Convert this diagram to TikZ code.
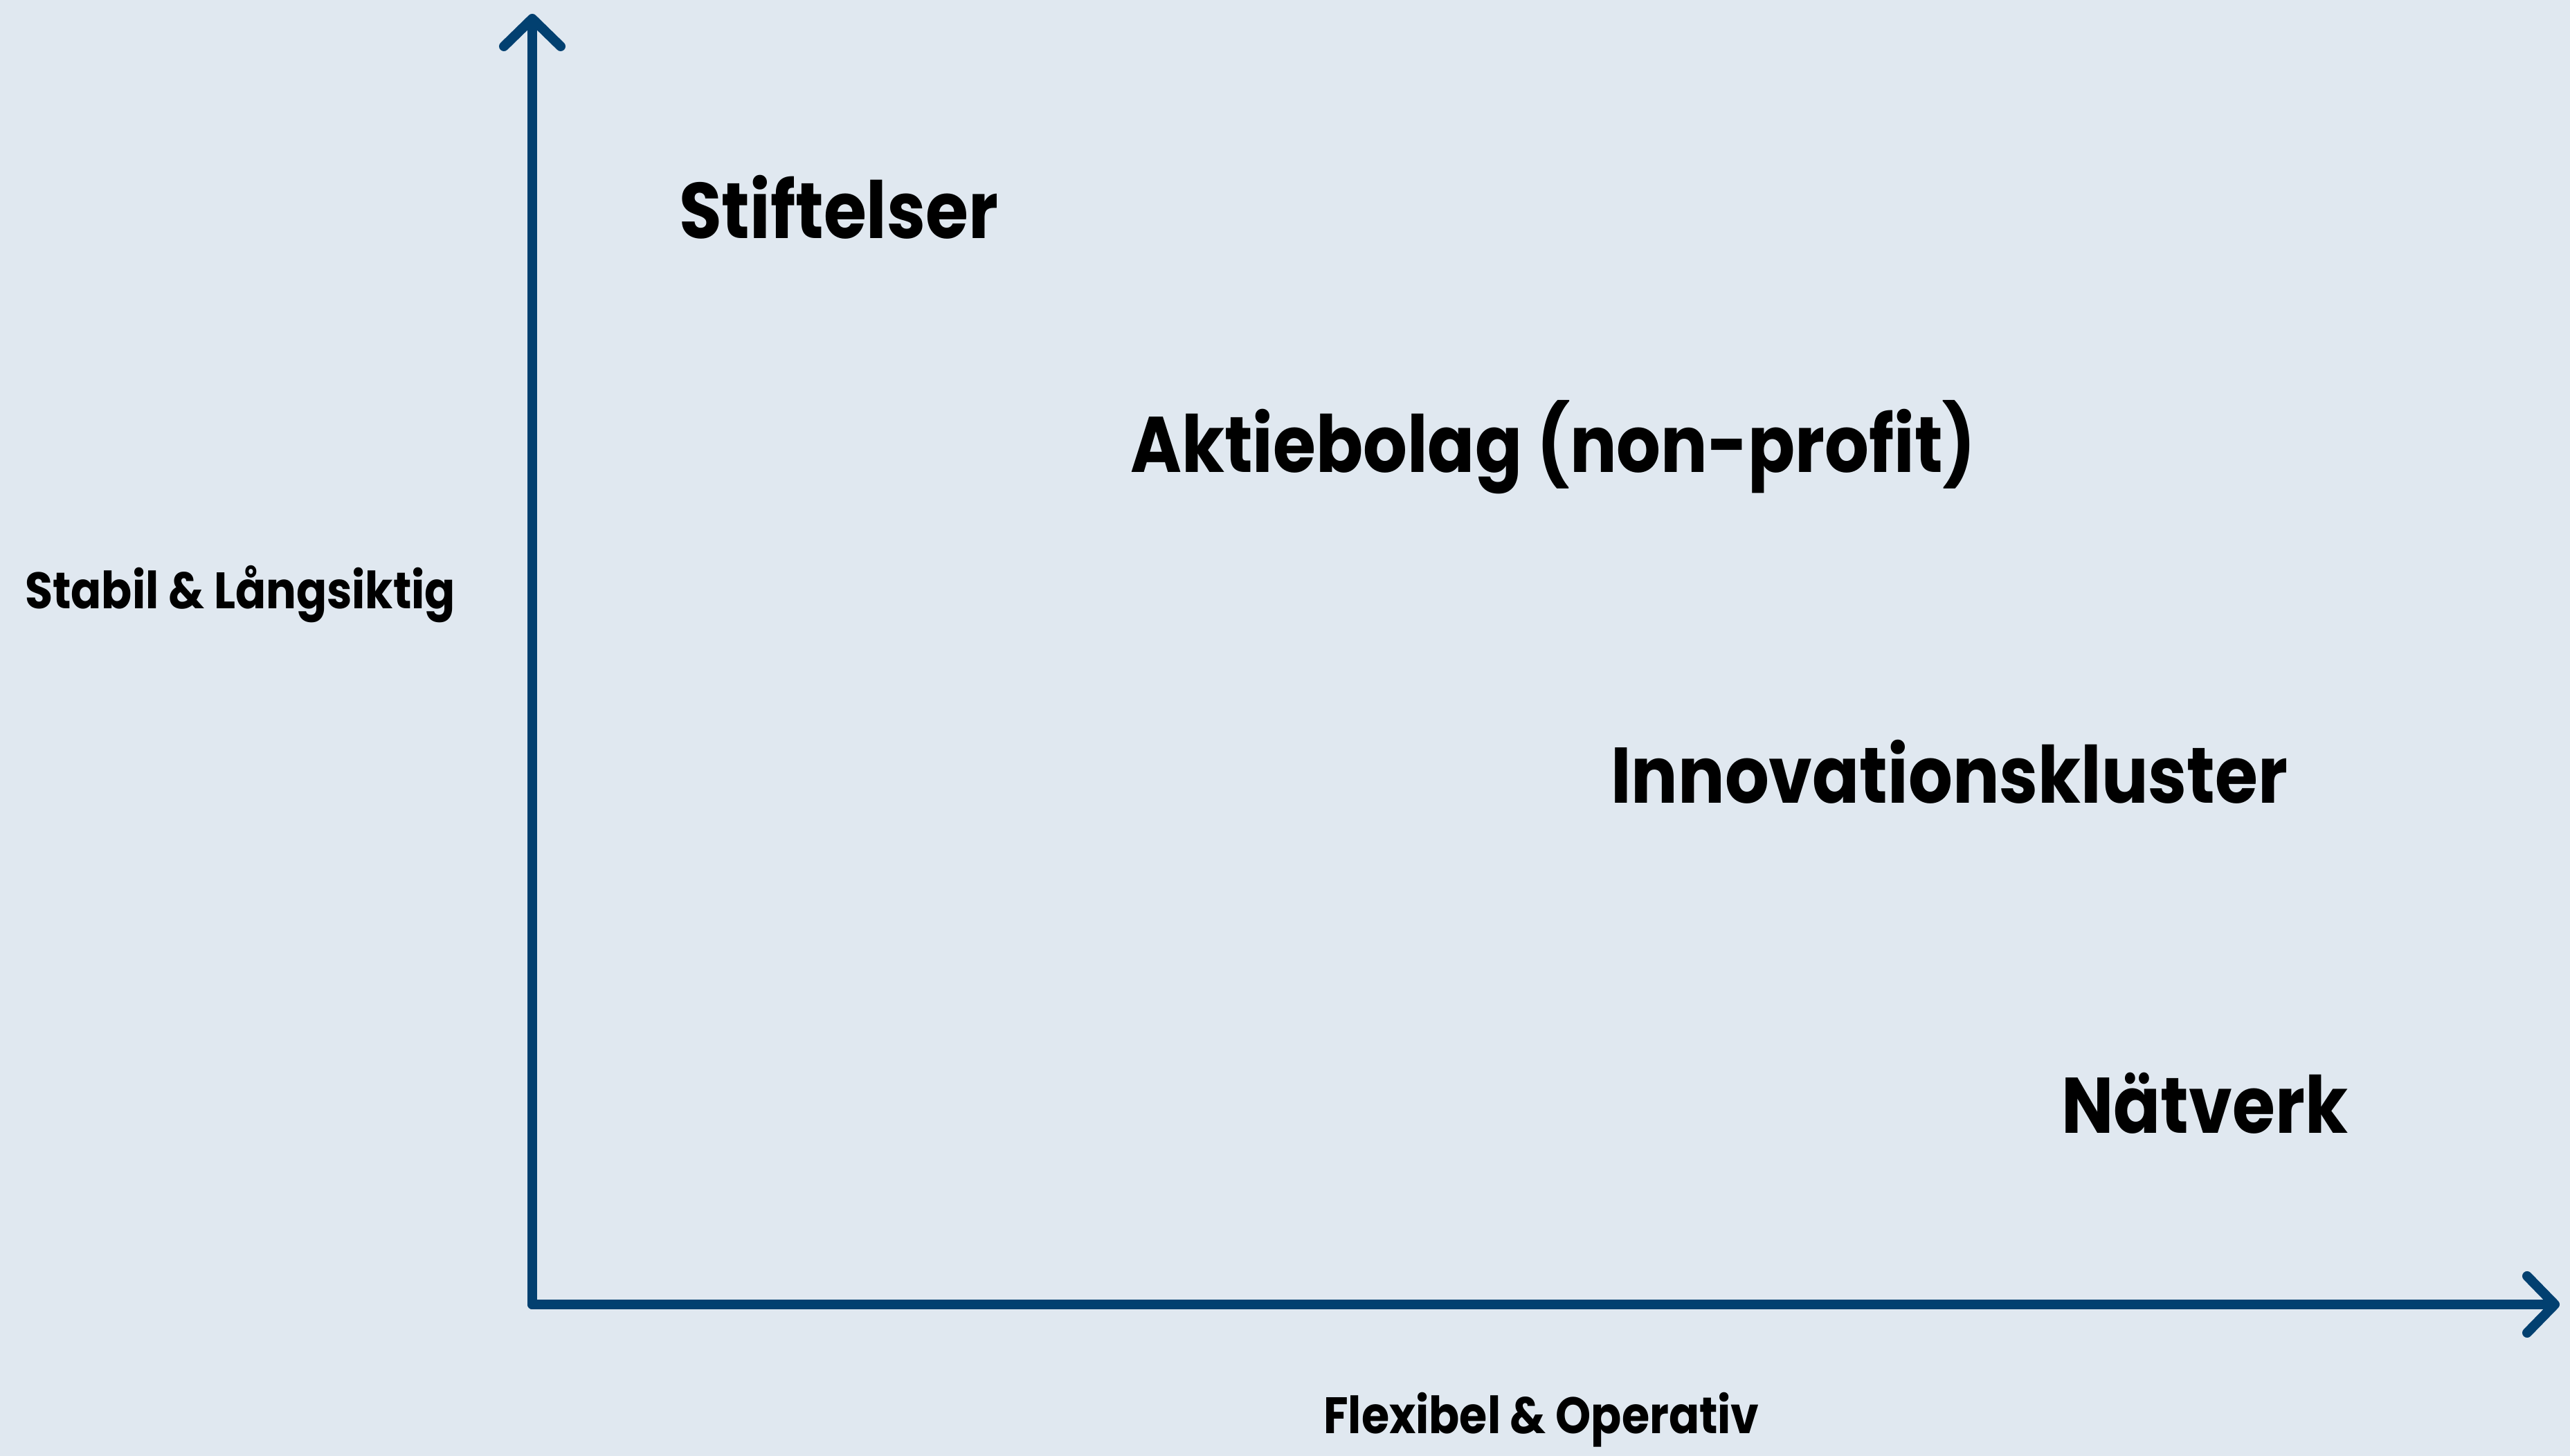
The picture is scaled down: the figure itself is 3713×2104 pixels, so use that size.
\documentclass[tikz,border=0pt]{standalone}
\usepackage{fontspec}
\setmainfont{Poppins}[FakeStretch=0.88]
\usetikzlibrary{arrows.meta}

\definecolor{paper}{RGB}{224,232,240}
\definecolor{axisblue}{RGB}{2,64,112}

\tikzset{
  axis/.style={draw=axisblue, line width=14pt, line cap=round, line join=round,
    -{Straight Barb[length=40pt, width=82pt, round]}},
  form/.style={anchor=base west, inner sep=0pt, font=\bfseries\fontsize{114}{120}\selectfont},
  axislabel/.style={anchor=base west, inner sep=0pt, font=\bfseries\fontsize{74}{80}\selectfont}
}

\begin{document}
\begin{tikzpicture}[x=1pt, y=1pt]
  \useasboundingbox[fill=paper] (0,0) rectangle (3713,2104);

  % axes
  \coordinate (origin) at (769,219);
  \coordinate (ytip) at (769,2084);
  \coordinate (xtip) at (3698,219);
  \draw[axis] (origin) -- (ytip);
  \draw[axis] (origin) -- (xtip);

  % axis labels
  \node (stable) [axislabel] at (36,1224) {Stabil \& Långsiktig};
  \node (flexible) [axislabel] at (1912,32) {Flexibel \& Operativ};

  % forms, from stable to flexible
  \node (foundation) [form] at (981,1759) {Stiftelser};
  \node (company) [form] at (1633,1421) {Aktiebolag (non-profit)};
  \node (cluster) [form] at (2327,943) {Innovationskluster};
  \node (network) [form] at (2978,466) {Nätverk};
\end{tikzpicture}
\end{document}
